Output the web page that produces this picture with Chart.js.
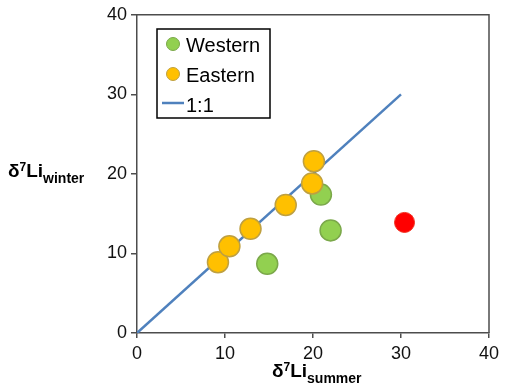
<!DOCTYPE html>
<html>
<head>
<meta charset="utf-8">
<script src="https://cdn.jsdelivr.net/npm/chart.js@4.4.1/dist/chart.umd.min.js"></script>
<style>
  html, body { margin: 0; padding: 0; background: #fff; }
  #wrap { width: 507px; height: 388px; }
</style>
</head>
<body>
<div id="wrap"><canvas id="chart" width="507" height="388"></canvas></div>
<script>
// Data (x = summer, y = winter)
var westernX = [14.8, 20.9, 22.0];
var westernY = [8.7, 17.4, 12.9];
var easternX = [9.2, 10.5, 12.9, 16.9, 19.9, 20.1];
var easternY = [8.9, 10.9, 13.1, 16.1, 18.8, 21.6];
var outlierX = [30.4];
var outlierY = [13.9];
var oneToOneX = [0, 30];
var oneToOneY = [0, 30];
var axisTicks = [0, 10, 20, 30, 40];

var green = '#92D050', yellow = '#FFC000', red = '#FF0000', blue = '#4F81BD';
var axisColor = '#4d4d4d';

function pts(xs, ys) {
    return xs.map(function (x, i) { return { x: x, y: ys[i] }; });
}

// frame, legend box and the sub/superscript axis titles
var decor = {
    id: 'decor',
    afterDraw: function (chart) {
        var ctx = chart.ctx, a = chart.chartArea;
        ctx.save();
        // top + right frame lines
        ctx.strokeStyle = axisColor;
        ctx.lineWidth = 1.5;
        ctx.beginPath();
        ctx.moveTo(a.left, a.top);
        ctx.lineTo(a.right, a.top);
        ctx.lineTo(a.right, a.bottom);
        ctx.stroke();

        // legend
        var lx = 157, ly = 29, lw = 113, lh = 89;
        ctx.fillStyle = '#fff';
        ctx.fillRect(lx, ly, lw, lh);
        ctx.strokeStyle = '#000';
        ctx.lineWidth = 1.5;
        ctx.strokeRect(lx, ly, lw, lh);
        ctx.font = '20px "Liberation Sans", Arial, sans-serif';
        ctx.textBaseline = 'alphabetic';
        ctx.textAlign = 'left';
        var items = [
            { label: 'Western', fill: green, border: '#7BA84A', y: 44 },
            { label: 'Eastern', fill: yellow, border: '#BFA040', y: 74 }
        ];
        items.forEach(function (it) {
            ctx.beginPath();
            ctx.arc(173, it.y, 6.5, 0, Math.PI * 2);
            ctx.fillStyle = it.fill;
            ctx.fill();
            ctx.strokeStyle = it.border;
            ctx.lineWidth = 1;
            ctx.stroke();
            ctx.fillStyle = '#000';
            ctx.fillText(it.label, 186, it.y + 8);
        });
        ctx.strokeStyle = blue;
        ctx.lineWidth = 2.5;
        ctx.beginPath();
        ctx.moveTo(162, 103);
        ctx.lineTo(184, 103);
        ctx.stroke();
        ctx.fillStyle = '#000';
        ctx.fillText('1:1', 186, 112);

        // axis titles
        drawTitle(ctx, 8, 177, 'winter');
        drawTitle(ctx, 272, 377, 'summer');
        ctx.restore();
    }
};

function drawTitle(ctx, x, y, sub) {
    ctx.fillStyle = '#000';
    ctx.textAlign = 'left';
    ctx.textBaseline = 'alphabetic';
    var big = 'bold 19px "Liberation Sans", Arial, sans-serif';
    var small = 'bold 12px "Liberation Sans", Arial, sans-serif';
    var subf = 'bold 14px "Liberation Sans", Arial, sans-serif';
    ctx.font = big;
    ctx.fillText('δ', x, y);
    x += ctx.measureText('δ').width;
    ctx.font = small;
    ctx.fillText('7', x, y - 6);
    x += ctx.measureText('7').width;
    ctx.font = big;
    ctx.fillText('Li', x, y);
    x += ctx.measureText('Li').width;
    ctx.font = subf;
    ctx.fillText(sub, x, y + 6);
}

function axis(pos, size) {
    return {
        type: 'linear',
        position: pos,
        min: 0,
        max: 40,
        afterBuildTicks: function (s) {
            s.ticks = axisTicks.map(function (v) { return { value: v }; });
        },
        afterFit: function (s) {
            if (pos === 'left') s.width = size; else s.height = size;
        },
        grid: {
            drawOnChartArea: false,
            drawTicks: true,
            tickLength: pos === 'left' ? 6 : 5,
            color: axisColor,
            lineWidth: 1.5
        },
        border: { display: true, color: axisColor, width: 1.5 },
        ticks: {
            color: '#111',
            padding: pos === 'left' ? 4 : 5,
            font: { family: '"Liberation Sans", Arial, sans-serif', size: 18 }
        }
    };
}

new Chart(document.getElementById('chart'), {
    type: 'scatter',
    data: {
        datasets: [
            {
                label: 'Eastern',
                data: pts(easternX, easternY),
                backgroundColor: yellow,
                borderColor: '#BFA040',
                borderWidth: 1.5,
                pointRadius: 10.5
            },
            {
                label: 'Western',
                data: pts(westernX, westernY),
                backgroundColor: green,
                borderColor: '#7BA84A',
                borderWidth: 1.5,
                pointRadius: 10.5
            },
            {
                label: 'outlier',
                data: pts(outlierX, outlierY),
                backgroundColor: red,
                borderColor: '#F03020',
                borderWidth: 1,
                pointRadius: 10
            },
            {
                type: 'line',
                label: '1:1',
                data: pts(oneToOneX, oneToOneY),
                borderColor: blue,
                borderWidth: 2.5,
                pointRadius: 0,
                fill: false
            }
        ]
    },
    options: {
        responsive: false,
        animation: false,
        layout: { padding: { left: 0, right: 18, top: 14, bottom: 0 } },
        plugins: { legend: { display: false }, tooltip: { enabled: false } },
        scales: {
            x: axis('bottom', 55),
            y: axis('left', 137)
        }
    },
    plugins: [decor]
});
</script>
</body>
</html>
